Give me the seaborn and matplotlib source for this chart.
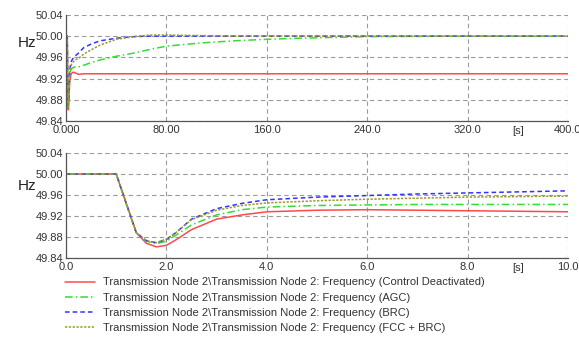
import matplotlib
matplotlib.use("Agg")
import matplotlib.pyplot as plt
import matplotlib.ticker as mticker
import seaborn as sns

# short-time window (s) and the four frequency traces (Hz)
t_short = [0, 1.0, 1.4, 1.6, 1.8, 2.0, 2.2, 2.5, 3.0, 3.5, 4.0, 5.0, 6.0, 7.0, 8.0, 9.0, 10.0]
red_short = [50.0, 50.0, 49.888, 49.868, 49.861, 49.864, 49.875, 49.894, 49.914, 49.922, 49.928,
             49.931, 49.932, 49.931, 49.930, 49.929, 49.928]
green_short = [50.0, 50.0, 49.888, 49.872, 49.867, 49.872, 49.884, 49.903, 49.922, 49.932, 49.937,
               49.940, 49.941, 49.942, 49.942, 49.942, 49.942]
blue_short = [50.0, 50.0, 49.888, 49.873, 49.869, 49.875, 49.889, 49.914, 49.934, 49.944, 49.951,
              49.956, 49.959, 49.962, 49.964, 49.966, 49.968]
olive_short = [50.0, 50.0, 49.888, 49.873, 49.869, 49.876, 49.889, 49.913, 49.931, 49.940, 49.945,
               49.949, 49.952, 49.954, 49.956, 49.957, 49.958]

# long-run tail (t > 10 s)
t_tail = [14, 20, 27, 40, 54, 67, 80, 107, 133, 160, 186, 240, 320, 400]
red_tail = [49.929] * 14
green_tail = [49.945, 49.950, 49.955, 49.962, 49.968, 49.975, 49.981, 49.987, 49.991, 49.994,
              49.996, 49.999, 50.0, 50.0]
blue_tail = [49.978, 49.985, 49.991, 49.996, 49.999, 50.0, 50.0, 50.0, 50.0, 50.0,
             50.0, 50.0, 50.0, 50.0]
olive_tail = [49.966, 49.974, 49.983, 49.994, 49.999, 50.002, 50.002, 50.001, 50.0, 50.0,
              50.0, 50.0, 50.0, 50.0]

labels = [
    "Transmission Node 2\\Transmission Node 2: Frequency (Control Deactivated)",
    "Transmission Node 2\\Transmission Node 2: Frequency (AGC)",
    "Transmission Node 2\\Transmission Node 2: Frequency (BRC)",
    "Transmission Node 2\\Transmission Node 2: Frequency (FCC + BRC)",
]
colors = ["#ff4a4a", "#33dd33", "#3333ff", "#9a9a30"]
styles = ["-", (0, (5, 2, 1, 2)), (0, (3, 2)), (0, (1.5, 1))]

y_ticks = [49.84, 49.88, 49.92, 49.96, 50.00, 50.04]

sns.set_style("white")
plt.rcParams["font.family"] = ["Liberation Sans", "DejaVu Sans"]

fig = plt.figure(figsize=(5.79, 3.38), dpi=100)
ax_top = fig.add_axes([0.114, 0.642, 0.867, 0.314])
ax_bot = fig.add_axes([0.114, 0.237, 0.867, 0.31])

short_series = [red_short, green_short, blue_short, olive_short]
tail_series = [red_tail, green_tail, blue_tail, olive_tail]

handles = []
for ys, yt, c, ls, lab in zip(short_series, tail_series, colors, styles, labels):
    sns.lineplot(x=t_short + t_tail, y=ys + yt, ax=ax_top, color=c, linestyle=ls, lw=1.1)
    sns.lineplot(x=t_short, y=ys, ax=ax_bot, color=c, linestyle=ls, lw=1.1)
    handles.append(ax_bot.lines[-1])


def style_axis(ax, xmax, major, fmt, s_pos):
    ax.set_xlim(0, xmax)
    ax.set_ylim(49.84, 50.04)
    ax.set_xticks([i * major for i in range(int(round(xmax / major)) + 1)])
    ax.xaxis.set_minor_locator(mticker.MultipleLocator(major / 2))
    ax.yaxis.set_minor_locator(mticker.MultipleLocator(0.02))
    ax.set_yticks(y_ticks)
    ax.yaxis.set_major_formatter(mticker.FormatStrFormatter("%.2f"))
    ax.xaxis.set_major_formatter(mticker.FuncFormatter(fmt))
    ax.grid(True, color="#9a9a9a", linestyle=(0, (4, 3)), linewidth=0.8)
    for side in ["top", "right"]:
        ax.spines[side].set_visible(False)
    for side in ["left", "bottom"]:
        ax.spines[side].set_color("#555555")
        ax.spines[side].set_linewidth(0.9)
    ax.tick_params(which="both", direction="in", length=2.5, color="#555555",
                   labelsize=8, labelcolor="#333333", pad=2)
    ax.tick_params(axis="x", pad=3)
    ax.set_xlabel("")
    ax.set_ylabel("")
    ax.text(s_pos, -0.045, "[s]", transform=ax.get_xaxis_transform(),
            ha="center", va="top", fontsize=8, color="#333333")


def top_fmt(v, pos):
    if v == 0:
        return "0.000"
    if v < 100:
        return f"{v:.2f}"
    return f"{v:.1f}"


style_axis(ax_top, 400, 80, top_fmt, 360)
style_axis(ax_bot, 10, 2, lambda v, pos: f"{v:.1f}", 9)

fig.text(0.031, 0.872, "Hz", fontsize=11, ha="left", va="center", color="#222222")
fig.text(0.031, 0.45, "Hz", fontsize=11, ha="left", va="center", color="#222222")

fig.legend(handles, labels, loc="upper left", bbox_to_anchor=(0.112, 0.179),
           frameon=False, fontsize=8, handlelength=2.7, handletextpad=0.7,
           labelspacing=0.46, borderaxespad=0, borderpad=0, labelcolor="#333333")

fig.savefig("out.png", dpi=100)
